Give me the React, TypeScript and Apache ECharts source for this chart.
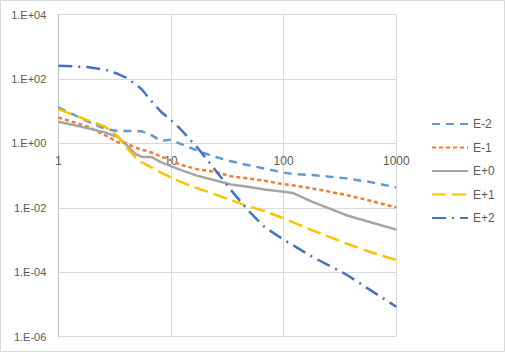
import React, { useEffect, useRef } from "react";
import * as echarts from "echarts";

const xValues = [1, 1.8, 2.6, 3.4, 4, 4.8, 5.5, 6.7, 8.2, 10, 12, 17, 24, 34, 48, 68, 100, 120, 180, 360, 570, 1000];

const seriesNames = ["E-2", "E-1", "E+0", "E+1", "E+2"];

const eMinus2 = [13.1, 4.9, 2.78, 2.41, 2.41, 2.4, 2.36, 1.81, 1.18, 1.31, 0.985, 0.6, 0.39, 0.28, 0.212, 0.165, 0.124, 0.113, 0.104, 0.082, 0.064, 0.043];
const eMinus1 = [6.4, 3.37, 1.81, 1.07, 1.02, 0.74, 0.64, 0.52, 0.39, 0.296, 0.22, 0.159, 0.132, 0.096, 0.082, 0.069, 0.054, 0.05, 0.04, 0.025, 0.017, 0.0103];
const eZero = [4.7, 2.99, 2.2, 1.55, 0.92, 0.48, 0.38, 0.38, 0.257, 0.197, 0.154, 0.1, 0.073, 0.053, 0.045, 0.037, 0.0316, 0.029, 0.0153, 0.0059, 0.0037, 0.0021];
const ePlus1 = [11.6, 5.3, 3.3, 1.6, 0.77, 0.38, 0.26, 0.18, 0.124, 0.087, 0.065, 0.041, 0.027, 0.0174, 0.0113, 0.0079, 0.0047, 0.0036, 0.002, 0.00078, 0.00044, 0.00024];
const ePlus2 = [257, 234, 195, 142, 110, 70, 48, 20.6, 9.4, 5.3, 2.9, 0.77, 0.17, 0.036, 0.0085, 0.0025, 0.00103, 0.0007, 0.0003, 0.000085, 0.00003, 0.0000085];

const yValues = [eMinus2, eMinus1, eZero, ePlus1, ePlus2];
const colors = ["#5B9BD5", "#ED7D31", "#A5A5A5", "#FFC000", "#4472C4"];
const dashes: (number[] | "solid")[] = [[8, 6], [4, 3], "solid", [14, 6], [14, 6, 2, 6]];

const FONT = "'Liberation Sans', Arial, sans-serif";

export default function App() {
  const ref = useRef<HTMLDivElement>(null);
  useEffect(() => {
    if (!ref.current) return;
    const chart = echarts.init(ref.current, undefined, { renderer: "svg" });
    const fmtY = (v: number) => {
      const e = Math.round(Math.log10(v));
      return "1.E" + (e < 0 ? "-" : "+") + String(Math.abs(e)).padStart(2, "0");
    };
    chart.setOption({
      animation: false,
      backgroundColor: "#ffffff",
      textStyle: { fontFamily: FONT },
      grid: { left: 58.3, right: 108.7, top: 14.5, bottom: 15.3, containLabel: false },
      graphic: [
        {
          type: "rect",
          shape: { x: 0.5, y: 0.5, width: 504, height: 351 },
          style: { fill: "none", stroke: "#d9d9d9", lineWidth: 1 },
          silent: true,
        },
      ],
      legend: {
        orient: "vertical",
        left: 431,
        top: 118,
        padding: 0,
        itemWidth: 36,
        itemHeight: 14,
        itemGap: 11.5,
        itemStyle: { opacity: 0 },
        textStyle: { color: "#595959", fontSize: 12, fontFamily: FONT },
        data: seriesNames,
      },
      xAxis: {
        type: "log",
        logBase: 10,
        min: 1,
        max: 1000,
        axisLine: { show: false },
        axisTick: { show: false },
        splitLine: { show: true, lineStyle: { color: "#d9d9d9", width: 1 } },
        axisLabel: {
          color: "#595959",
          fontSize: 12,
          fontFamily: FONT,
          margin: -182,
          formatter: (v: number) => String(Math.round(v)),
        },
      },
      yAxis: {
        type: "log",
        logBase: 10,
        min: 0.000001,
        max: 10000,
        interval: 2,
        splitNumber: 5,
        axisLine: { show: true, lineStyle: { color: "#bfbfbf", width: 1 } },
        axisTick: { show: false },
        splitLine: { show: true, lineStyle: { color: "#d9d9d9", width: 1 } },
        axisLabel: {
          color: "#595959",
          fontSize: 11,
          fontFamily: FONT,
          margin: 12,
          formatter: fmtY,
        },
      },
      series: seriesNames.map((name, i) => ({
        name,
        type: "line",
        symbol: "none",
        showSymbol: false,
        data: xValues.map((x, j) => [x, yValues[i][j]]),
        itemStyle: { color: colors[i] },
        lineStyle: { color: colors[i], width: 2.5, type: dashes[i], cap: "butt" },
      })),
    });
    return () => chart.dispose();
  }, []);
  return (
    <div
      ref={ref}
      style={{ position: "fixed", left: 0, top: 0, width: 505, height: 352 }}
    />
  );
}
